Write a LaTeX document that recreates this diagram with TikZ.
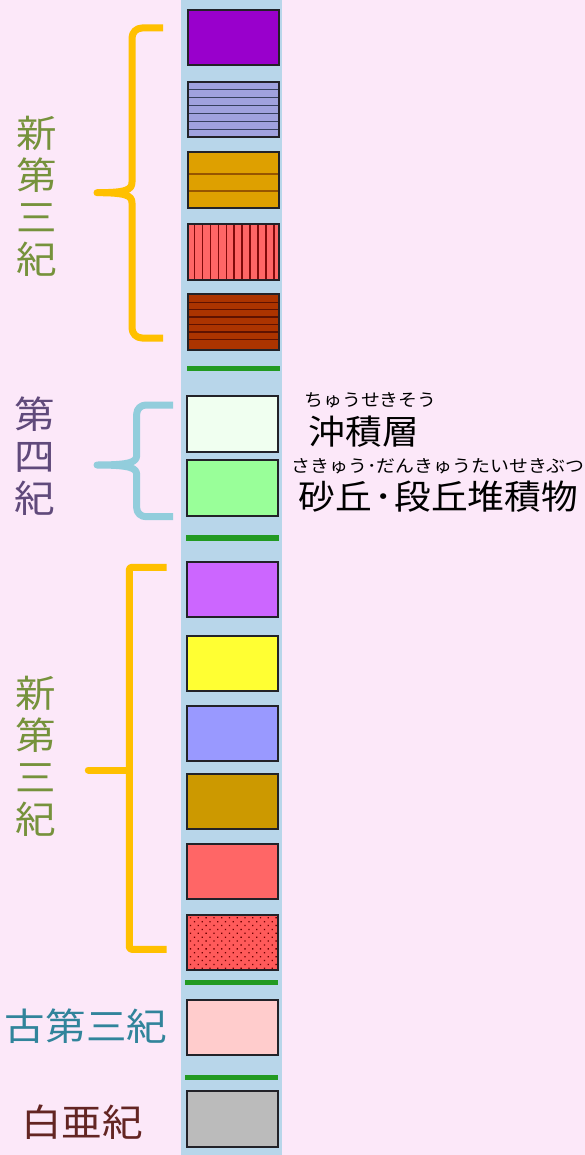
\documentclass[tikz,border=0pt]{standalone}
\usepackage{fontspec}
\setmainfont[FakeStretch=1.08]{Noto Sans CJK JP}
\usepackage{tikz}
\usetikzlibrary{calc}
\usetikzlibrary{patterns,patterns.meta}
\definecolor{bgpink}{HTML}{FCE8F9}
\definecolor{stripblue}{HTML}{B8D6EA}
\definecolor{edgegray}{HTML}{222228}
\definecolor{boundgreen}{HTML}{229A22}
\definecolor{braceorange}{HTML}{FFC000}
\definecolor{braceblue}{HTML}{92CDDC}
\definecolor{olivetext}{HTML}{76923C}
\definecolor{quattext}{HTML}{604A7B}
\definecolor{paleotext}{HTML}{31849B}
\definecolor{cretatext}{HTML}{632523}
\definecolor{topAfill}{HTML}{9900CC}
\definecolor{topBfill}{HTML}{A0A2DE}
\definecolor{topBline}{HTML}{37415F}
\definecolor{topCfill}{HTML}{DEA000}
\definecolor{topCline}{HTML}{965500}
\definecolor{topDfill}{HTML}{FF6666}
\definecolor{topDline}{HTML}{820A0A}
\definecolor{topEfill}{HTML}{AC3400}
\definecolor{topEline}{HTML}{5F1200}
\definecolor{alluvfill}{HTML}{F0FFF0}
\definecolor{terracefill}{HTML}{99FF99}
\definecolor{lowAfill}{HTML}{CC66FF}
\definecolor{lowBfill}{HTML}{FFFF33}
\definecolor{lowCfill}{HTML}{9999FF}
\definecolor{lowDfill}{HTML}{CC9900}
\definecolor{lowEfill}{HTML}{FF6666}
\definecolor{lowFfill}{HTML}{FF5A5A}
\definecolor{lowFdot}{HTML}{6E0000}
\definecolor{paleofill}{HTML}{FFCCCC}
\definecolor{cretafill}{HTML}{BBBBBB}
\newcommand{\layerwidth}{91pt}
\newcommand{\layerheight}{55.5pt}
\tikzstyle{layer}=[draw=edgegray, line width=2pt, inner sep=0, outer sep=0,
                   minimum width=\layerwidth, minimum height=\layerheight]
\tikzstyle{boundary}=[fill=boundgreen, inner sep=0, minimum width=93pt, minimum height=5.5pt]
\tikzstyle{era}=[inner sep=0, align=center, font=\fontsize{37.5}{42}\selectfont]
\tikzstyle{ruby}=[inner sep=0, font=\fontsize{17.5}{18}\selectfont]
\tikzstyle{stratum}=[inner sep=0, font=\fontsize{34}{36}\selectfont]
\tikzstyle{bracket}=[line width=7pt, line join=round]
\tikzset{
  % Stripes drawn inside a layer box, at fractions of its height or width.
  hlines/.style 2 args={path picture={
      \foreach \f in {#1}
        \draw[#2, line width=1.3pt]
          ($(path picture bounding box.north west)!\f!(path picture bounding box.south west)$) -- ++(100pt,0);}},
  vlines/.style={path picture={
      \foreach \k in {0,...,10}
        \draw[#1, line width=1.3pt]
          ($(path picture bounding box.north west)!0.074+\k*0.0877!(path picture bounding box.north east)$) -- ++(0,-100pt);}}
}

\begin{document}
\begin{tikzpicture}[x=1pt, y=-1pt]
  \fill[bgpink] (0,0) rectangle (585,1155);
  \useasboundingbox (0,0) rectangle (585,1155);
  \fill[stripblue] (181,0) rectangle (282,1155);

  % upper column
  \node[layer, fill=topAfill] (top1) at (233,37.7) {};
  \node[layer, fill=topBfill, hlines={0.143,0.286,0.429,0.571,0.714,0.857}{topBline}] (top2) at (233,109.5) {};
  \node[layer, fill=topCfill, hlines={0.39,0.70}{topCline}] (top3) at (233,180) {};
  \node[layer, fill=topDfill, vlines=topDline] (top4) at (233,252) {};
  \node[layer, fill=topEfill, hlines={0.15,0.28,0.41,0.54,0.68,0.81}{topEline}] (top5) at (233,322) {};
  \node[boundary] (bound1) at (233.3,368.3) {};

  % quaternary
  \node[layer, fill=alluvfill] (alluvium) at (232.5,423.8) {};
  \node[layer, fill=terracefill] (terrace) at (232.5,488) {};
  \node[boundary] (bound2) at (232.7,538) {};

  % lower column
  \node[layer, fill=lowAfill] (low1) at (232.3,589.3) {};
  \node[layer, fill=lowBfill] (low2) at (232.3,663.5) {};
  \node[layer, fill=lowCfill] (low3) at (232.3,733.3) {};
  \node[layer, fill=lowDfill] (low4) at (232.3,801.5) {};
  \node[layer, fill=lowEfill] (low5) at (232.3,871.5) {};
  \node[layer, preaction={fill=lowFfill}, pattern={Dots[radius=0.9pt, distance=5.5pt, angle=45]},
        pattern color=lowFdot] (low6) at (232.3,942.5) {};
  \node[boundary] (bound3) at (231.5,982.7) {};
  \node[layer, fill=paleofill] (paleogene) at (232.3,1027.5) {};
  \node[boundary] (bound4) at (231.5,1077.3) {};
  \node[layer, fill=cretafill] (cretaceous) at (232.3,1119.2) {};

  % brackets
  \draw[bracket, braceorange] (163,28) -- (142,28) to[out=180,in=90] (132,38) -- (132,182)
    .. controls (132,190) and (126,192.7) .. (97,192.7)
    .. controls (126,192.7) and (132,195.4) .. (132,203) -- (132,328)
    to[out=-90,in=180] (142,338) -- (163,338);
  \draw[bracket, braceblue] (173,405) -- (146,405) to[out=180,in=90] (136.7,414) -- (136.7,455)
    .. controls (136.7,462) and (131,465) .. (97,465)
    .. controls (131,465) and (136.7,468) .. (136.7,475) -- (136.7,508)
    to[out=-90,in=180] (146,516.7) -- (173,516.7);
  \draw[bracket, braceorange, rounded corners=2.5pt] (166.7,567.3) -- (129.3,567.3) -- (129.3,949.3) -- (166.7,949.3);
  \draw[bracket, braceorange, line cap=round] (129.3,770) -- (88.3,770);

  % era names
  \node[era, text=olivetext] (neogeneTop) at (36.7,196) {新\\第\\三\\紀};
  \node[era, text=quattext] (quaternary) at (35,456) {第\\四\\紀};
  \node[era, text=olivetext] (neogeneLow) at (36,756.5) {新\\第\\三\\紀};
  \node[era, text=paleotext] (paleoName) at (86,1026) {古第三紀};
  \node[era, text=cretatext] (cretaName) at (82,1122) {白亜紀};

  % strata names
  \node[ruby] (alluviumRuby) at (370.5,400.5) {ちゅうせきそう};
  \node[stratum] (alluviumName) at (364,431.7) {沖積層};
  \node[ruby] (terraceRuby) at (438.3,466.5) {さきゅう･だんきゅうたいせきぶつ};
  \node[stratum] (terraceName) at (438.3,496.7) {砂丘\kern2pt･\kern2pt段丘堆積物};
\end{tikzpicture}
\end{document}
